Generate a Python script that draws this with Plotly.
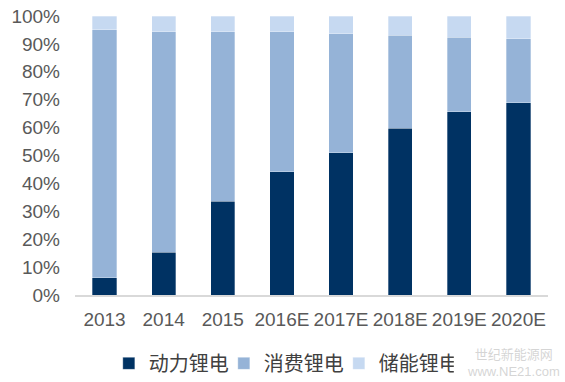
import plotly.graph_objects as go

years = ["2013", "2014", "2015", "2016E", "2017E", "2018E", "2019E", "2020E"]
power = [6.2, 15.4, 33.6, 44.2, 50.9, 59.7, 65.7, 68.9]
consumer = [88.8, 78.9, 60.7, 50.1, 42.8, 33.4, 26.7, 22.9]
storage = [5.0, 5.7, 5.7, 5.7, 6.3, 6.9, 7.6, 8.2]

names = ["动力锂电", "消费锂电", "储能锂电"]
colors = ["#003263", "#95B3D7", "#C6D9F1"]

fig = go.Figure()
for name, vals, c in zip(names, [power, consumer, storage], colors):
    fig.add_trace(go.Bar(
        x=years, y=vals, name=name,
        marker=dict(color=c, line=dict(color="rgba(255,255,255,0.5)", width=0.6)),
    ))

font_family = "Liberation Sans, Arial, Noto Sans CJK SC, sans-serif"
fig.update_layout(
    barmode="stack",
    bargap=0.59,
    width=565, height=382,
    margin=dict(l=75, r=17, t=16, b=87, autoexpand=False),
    plot_bgcolor="white", paper_bgcolor="white",
    font=dict(family=font_family, size=19, color="#595959"),
    showlegend=True,
    legend=dict(orientation="h", x=0.0715, xanchor="left", y=-0.245, yanchor="middle",
                font=dict(size=20, color="#404040"), entrywidth=70,
                entrywidthmode="pixels", traceorder="normal"),
    xaxis=dict(showline=True, linecolor="#D9D9D9", linewidth=1.5, ticks="",
               showgrid=False, tickfont=dict(size=19, color="#595959"),
               ticklabelstandoff=6, automargin=False),
    yaxis=dict(range=[0, 100], dtick=10, ticksuffix="%", showgrid=False,
               zeroline=False, showline=False, ticks="", automargin=False,
               ticklabelstandoff=14,
               tickfont=dict(size=19, color="#595959")),
)
fig.add_annotation(text="世纪新能源网<br>www.NE21.com", xref="paper", yref="paper",
                   x=1.03, y=-0.245, xanchor="right", yanchor="middle", showarrow=False,
                   align="center",
                   font=dict(size=13, color="rgba(195,195,195,0.7)"))
fig.write_html("out.html", config={"displayModeBar": False},
               post_script="document.body.style.margin='0';")
